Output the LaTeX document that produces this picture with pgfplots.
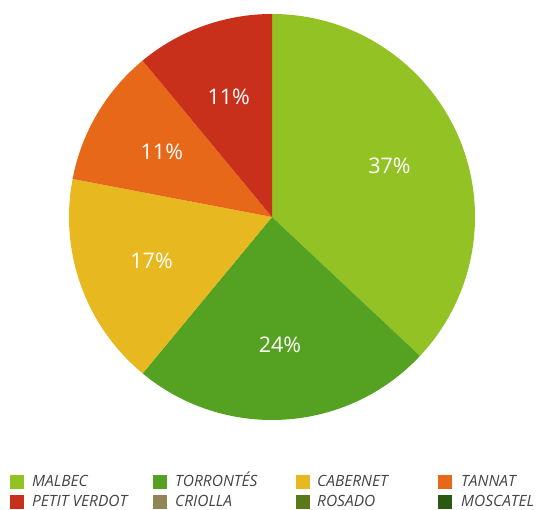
\documentclass[border=0pt]{standalone}
\usepackage{fontspec}
\setmainfont{Open Sans}
\usepackage{pgfplots}
\usepackage{pgfplotstable}
\pgfplotsset{compat=1.18}
\usetikzlibrary{calc}
\definecolor{cMalbec}{RGB}{147,194,37}
\definecolor{cTorrontes}{RGB}{85,162,34}
\definecolor{cCabernet}{RGB}{232,184,32}
\definecolor{cTannat}{RGB}{232,104,26}
\definecolor{cPetit}{RGB}{200,48,28}
\definecolor{cCriolla}{RGB}{143,133,85}
\definecolor{cRosado}{RGB}{90,122,26}
\definecolor{cMoscatel}{RGB}{42,90,18}
\definecolor{legtext}{RGB}{68,68,68}
\newcommand\pct{\fontsize{21.5bp}{21.5bp}\selectfont}
\newcommand\leg{\fontsize{15.5bp}{15.5bp}\selectfont\itshape\color{legtext}}
\pgfplotstableread{
label value color
MALBEC 37 cMalbec
TORRONTES 24 cTorrontes
CABERNET 17 cCabernet
TANNAT 11 cTannat
PETITVERDOT 11 cPetit
}\piedata
\begin{document}
\begin{tikzpicture}
\begin{axis}[
  scale only axis, width=537bp, height=510bp,
  xmin=0, xmax=537, ymin=0, ymax=510,
  hide axis, clip=false]
\path (axis cs:0,0) rectangle (axis cs:537,510);
\xdef\cum{0}
\pgfplotsinvokeforeach{0,...,4}{
  \pgfplotstablegetelem{#1}{value}\of\piedata \xdef\v{\pgfplotsretval}
  \pgfplotstablegetelem{#1}{color}\of\piedata \xdef\c{\pgfplotsretval}
  \pgfmathsetmacro\a{90-3.6*\cum}
  \pgfmathsetmacro\b{90-3.6*(\cum+\v)}
  \pgfmathsetmacro\m{(\a+\b)/2}
  \edef\temp{\noexpand\fill[\c] (axis cs:272,293) -- ++(\a:203bp) arc[start angle=\a, end angle=\b, radius=203bp] -- cycle;
   \noexpand\node[white, font=\noexpand\pct] at ($(axis cs:272,293)+(\m:128bp)$) {\v\noexpand\%};}
  \temp
  \pgfmathsetmacro\newcum{\cum+\v}\xdef\cum{\newcum}
}
% legend
\fill[cMalbec]   (axis cs:10,21) rectangle (axis cs:24,35);
\node[anchor=base west, inner sep=0pt, font=\leg] at (axis cs:32,23.3) {MALBEC};
\fill[cTorrontes](axis cs:153,21) rectangle (axis cs:167,35);
\node[anchor=base west, inner sep=0pt, font=\leg] at (axis cs:175,23.3) {TORRONTÉS};
\fill[cCabernet] (axis cs:296,21) rectangle (axis cs:310,35);
\node[anchor=base west, inner sep=0pt, font=\leg] at (axis cs:317,23.3) {CABERNET};
\fill[cTannat]   (axis cs:438,21) rectangle (axis cs:452,35);
\node[anchor=base west, inner sep=0pt, font=\leg] at (axis cs:461,23.3) {TANNAT};
\fill[cPetit]    (axis cs:10,1) rectangle (axis cs:24,15);
\node[anchor=base west, inner sep=0pt, font=\leg] at (axis cs:32,3.3) {PETIT VERDOT};
\fill[cCriolla]  (axis cs:153,1) rectangle (axis cs:167,15);
\node[anchor=base west, inner sep=0pt, font=\leg] at (axis cs:175,3.3) {CRIOLLA};
\fill[cRosado]   (axis cs:296,1) rectangle (axis cs:310,15);
\node[anchor=base west, inner sep=0pt, font=\leg] at (axis cs:317,3.3) {ROSADO};
\fill[cMoscatel] (axis cs:438,1) rectangle (axis cs:452,15);
\node[anchor=base west, inner sep=0pt, font=\leg] at (axis cs:461,3.3) {MOSCATEL};
\end{axis}
\end{tikzpicture}
\end{document}
